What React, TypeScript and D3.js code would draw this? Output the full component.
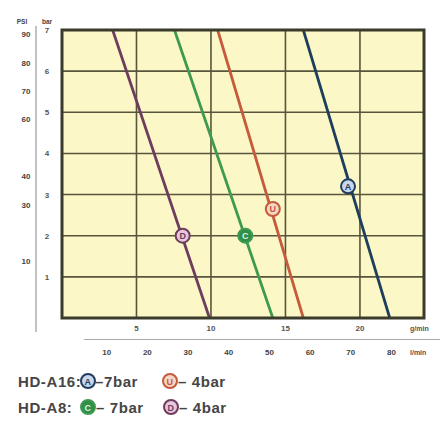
import * as d3 from 'd3';

// pressure (bar) vs flow (gpm) for each pump / air pressure setting
const barTicks = [1, 2, 3, 4, 5, 6, 7];
const psiTicks = [90, 80, 70, 60, 40, 30, 10];
const gpmTicks = [5, 10, 15, 20];
const lpmTicks = [10, 20, 30, 40, 50, 60, 70, 80];

// [flow gpm, pressure bar]
const a16Bar7 = [[16.2, 7], [22.0, 0]];
const a16Bar4 = [[10.45, 7], [16.2, 0]];
const a8Bar7 = [[7.55, 7], [14.15, 0]];
const a8Bar4 = [[3.4, 7], [9.9, 0]];

const series = [
    { key: 'a16-7', points: a16Bar7, marker: [19.2, 3.2], color: '#1f3d5c', fill: '#c9d6ec', letter: 'A' },
    { key: 'a16-4', points: a16Bar4, marker: [14.15, 2.65], color: '#c55a3c', fill: '#f6d6c6', letter: 'U' },
    { key: 'a8-7', points: a8Bar7, marker: [12.3, 2.0], color: '#3e9a50', fill: '#2f8f48', letter: 'C' },
    { key: 'a8-4', points: a8Bar4, marker: [8.1, 2.0], color: '#6d3d5e', fill: '#e8c6dc', letter: 'D' },
];

const W = 443;
const H = 421;
const plot = { left: 62, right: 424, top: 30, bottom: 318 };
const font = "'Liberation Sans', Arial, sans-serif";

const x = d3.scaleLinear().domain([0, 24.3]).range([plot.left, plot.right]);
const y = d3.scaleLinear().domain([0, 7]).range([plot.bottom, plot.top]);
const yPsi = d3.scaleLinear().domain([-10, 91.5]).range([plot.bottom, plot.top]);
const xLpm = d3.scaleLinear().domain([0, 88]).range([plot.left + 4, plot.right]);

const line = d3.line<number[]>().x(d => x(d[0])).y(d => y(d[1]));

function Marker({ cx, cy, s, r = 7 }: { cx: number; cy: number; s: typeof series[0]; r?: number }) {
    return (
        <g>
            <circle cx={cx} cy={cy} r={r} fill={s.fill} stroke={s.color} strokeWidth={2} />
            <text x={cx} y={cy + 3.5} textAnchor="middle" fontSize={9} fontWeight="bold"
                fill={s.key === 'a8-7' ? '#dff3e2' : s.color} fontFamily={font}>{s.letter}</text>
        </g>
    );
}

export default function App() {
    return (
        <svg width={W} height={H} style={{ position: 'absolute', left: 0, top: 0, background: '#fff' }}>
            <defs>
                <clipPath id="plotClip">
                    <rect x={plot.left} y={plot.top} width={plot.right - plot.left} height={plot.bottom - plot.top} />
                </clipPath>
            </defs>

            {/* plot background */}
            <rect x={plot.left} y={plot.top} width={plot.right - plot.left} height={plot.bottom - plot.top} fill="#fcf7c6" />

            {/* grid */}
            {barTicks.slice(0, -1).map(b => (
                <line key={'h' + b} x1={plot.left} x2={plot.right} y1={y(b)} y2={y(b)} stroke="#57563c" strokeWidth={1.6} />
            ))}
            {gpmTicks.map(g => (
                <line key={'v' + g} x1={x(g)} x2={x(g)} y1={plot.top} y2={plot.bottom} stroke="#57563c" strokeWidth={1.6} />
            ))}

            {/* curves */}
            <g clipPath="url(#plotClip)">
                {series.map(s => (
                    <path key={s.key} d={line(s.points) as string} fill="none" stroke={s.color} strokeWidth={2.8} />
                ))}
            </g>
            {series.map(s => (
                <Marker key={'m' + s.key} cx={x(s.marker[0])} cy={y(s.marker[1])} s={s} />
            ))}

            <rect x={plot.left} y={plot.top} width={plot.right - plot.left} height={plot.bottom - plot.top}
                fill="none" stroke="#3b3b2b" strokeWidth={3} />

            {/* left axes */}
            <line x1={36} x2={36} y1={26} y2={332} stroke="#9a9a9a" strokeWidth={1.2} />
            <text x={22} y={24} textAnchor="middle" fontSize={6.5} fontWeight="bold" fill="#444" fontFamily={font}>PSI</text>
            <text x={47} y={24} textAnchor="middle" fontSize={6.5} fontWeight="bold" fill="#444" fontFamily={font}>bar</text>
            {barTicks.map(b => (
                <text key={'b' + b} x={47} y={y(b) + 3} textAnchor="middle" fontSize={8} fontWeight="bold" fill="#555" fontFamily={font}>{b}</text>
            ))}
            {psiTicks.map(p => (
                <text key={'p' + p} x={26} y={yPsi(p) + 3} textAnchor="middle" fontSize={8} fontWeight="bold" fill="#444" fontFamily={font}>{p}</text>
            ))}

            {/* bottom axes */}
            {gpmTicks.map(g => (
                <text key={'g' + g} x={x(g)} y={331} textAnchor="middle" fontSize={8} fontWeight="bold" fill="#555" fontFamily={font}>{g}</text>
            ))}
            <text x={410} y={331} fontSize={7} fontWeight="bold" fill="#555" fontFamily={font}>g/min</text>
            <line x1={84} x2={440} y1={339.5} y2={339.5} stroke="#aaa" strokeWidth={1} />
            {lpmTicks.map(l => (
                <text key={'l' + l} x={xLpm(l)} y={355} textAnchor="middle" fontSize={8} fontWeight="bold" fill="#444" fontFamily={font}>{l}</text>
            ))}
            <text x={410} y={355} fontSize={7} fontWeight="bold" fill="#555" fontFamily={font}>l/min</text>

            {/* legend */}
            <g fontFamily={font} fontSize={15} fontWeight="bold" fill="#454545" letterSpacing={0.6}>
                <text x={18} y={387}>HD-A16:</text>
                <Marker cx={88} cy={381} s={series[0]} />
                <text x={95} y={387}>–7bar</text>
                <Marker cx={170} cy={381} s={series[1]} />
                <text x={178} y={387}>– 4bar</text>

                <text x={18} y={413}>HD-A8:</text>
                <Marker cx={88} cy={407} s={series[2]} />
                <text x={96} y={413}>– 7bar</text>
                <Marker cx={171} cy={407} s={series[3]} />
                <text x={179} y={413}>– 4bar</text>
            </g>
        </svg>
    );
}
